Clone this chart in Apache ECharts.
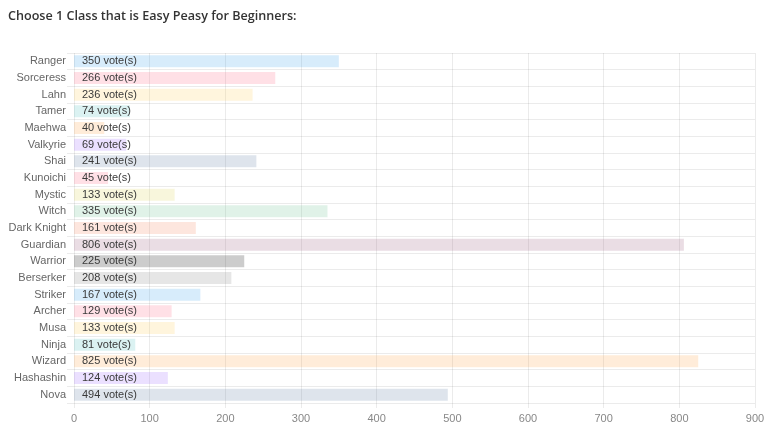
<!DOCTYPE html>
<html>
<head>
<meta charset="utf-8">
<script src="https://cdn.jsdelivr.net/npm/echarts@6/dist/echarts.min.js"></script>
<style>
  html, body { margin: 0; padding: 0; background: #fff; }
</style>
</head>
<body>
<div id="chart" style="width:768px;height:434px;"></div>
<script>
var classes = ['Ranger', 'Sorceress', 'Lahn', 'Tamer', 'Maehwa', 'Valkyrie', 'Shai', 'Kunoichi', 'Mystic', 'Witch',
  'Dark Knight', 'Guardian', 'Warrior', 'Berserker', 'Striker', 'Archer', 'Musa', 'Ninja', 'Wizard', 'Hashashin', 'Nova']
var votes = [350, 266, 236, 74, 40, 69, 241, 45, 133, 335, 161, 806, 225, 208, 167, 129, 133, 81, 825, 124, 494]

// pale bar colours, repeating after 14
var palette = [
  'rgba(54,162,235,0.2)', 'rgba(255,99,132,0.2)', 'rgba(255,206,86,0.2)', 'rgba(75,192,192,0.2)',
  'rgba(255,159,64,0.2)', 'rgba(153,102,255,0.2)', 'rgba(88,120,160,0.2)', 'rgba(255,99,132,0.2)',
  'rgba(220,210,80,0.2)', 'rgba(100,190,140,0.2)', 'rgba(245,130,90,0.2)', 'rgba(150,85,120,0.2)',
  'rgba(0,0,0,0.2)', 'rgba(128,128,128,0.2)'
]

var gridColor = 'rgba(0,0,0,0.08)'

var chart = echarts.init(document.getElementById('chart'))
chart.setOption({
  animation: false,
  title: {
    text: 'Choose 1 Class that is Easy Peasy for Beginners:',
    left: 3,
    top: 5,
    textStyle: {
      fontFamily: 'Open Sans',
      fontSize: 12.6,
      fontWeight: 600,
      color: '#333'
    }
  },
  grid: {
    left: 74,
    right: 13,
    top: 53,
    bottom: 31
  },
  xAxis: {
    type: 'value',
    min: 0,
    max: 900,
    interval: 100,
    axisLine: { show: false },
    axisTick: { show: true, length: 5, lineStyle: { color: gridColor } },
    axisLabel: { color: '#888', fontSize: 11, fontFamily: 'Liberation Sans', margin: 10 },
    splitLine: { show: true, lineStyle: { color: gridColor } }
  },
  yAxis: {
    type: 'category',
    inverse: true,
    data: classes,
    axisLine: { show: false },
    axisTick: { show: true, length: 7, lineStyle: { color: gridColor } },
    axisLabel: { color: '#666', fontSize: 11, fontFamily: 'Liberation Sans', margin: 8 },
    splitLine: { show: true, lineStyle: { color: gridColor } }
  },
  series: [
    {
      type: 'bar',
      barWidth: 12,
      data: votes.map(function (v, i) {
        return { value: v, itemStyle: { color: palette[i % palette.length] } }
      }),
      label: {
        show: true,
        position: 'insideLeft',
        distance: 8,
        formatter: '{c} vote(s)',
        color: '#3a3a3a',
        fontSize: 11,
        fontFamily: 'Liberation Sans'
      }
    }
  ]
})
</script>
</body>
</html>
